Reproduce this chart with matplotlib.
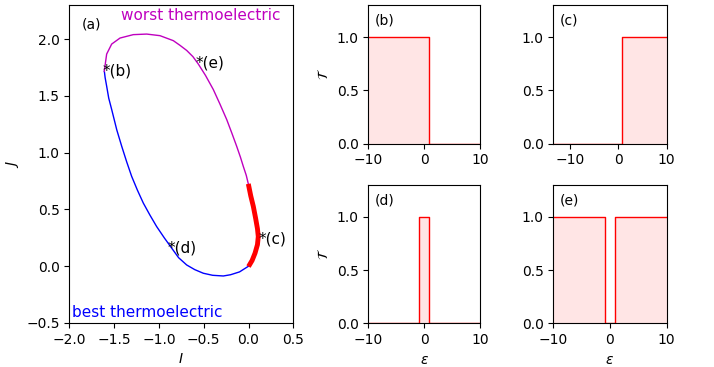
import matplotlib
matplotlib.use("Agg")
import matplotlib.pyplot as plt
import numpy as np

# ---- data for panel (a) ----
# blue branch (best thermoelectric): from (0,0) around the bottom to point (b)
I_blue = [0.0, -0.1, -0.2, -0.281, -0.4, -0.504, -0.6, -0.69, -0.78, -0.857, -0.94, -1.025,
          -1.1, -1.174, -1.24, -1.304, -1.36, -1.415, -1.47, -1.527, -1.56, -1.583, -1.6, -1.609]
J_blue = [0.0, -0.05, -0.075, -0.086, -0.08, -0.062, -0.03, 0.011, 0.075, 0.159, 0.25, 0.349,
          0.45, 0.556, 0.67, 0.791, 0.92, 1.056, 1.2, 1.38, 1.48, 1.585, 1.66, 1.717]
# magenta branch (worst thermoelectric): from point (b) over the top down to the red segment
I_mag = [-1.609, -1.595, -1.583, -1.527, -1.434, -1.286, -1.136, -0.988, -0.839, -0.765,
         -0.69, -0.62, -0.56, -0.48, -0.393, -0.32, -0.243, -0.185, -0.132, -0.09,
         -0.058, -0.025, -0.002]
J_mag = [1.717, 1.80, 1.868, 1.956, 2.009, 2.039, 2.044, 2.030, 1.986, 1.945,
         1.90, 1.845, 1.78, 1.68, 1.556, 1.43, 1.291, 1.17, 1.056, 0.96,
         0.879, 0.80, 0.725]
# red segment
I_red = [-0.002, 0.025, 0.054, 0.08, 0.1, 0.109, 0.1, 0.073, 0.04, 0.0]
J_red = [0.725, 0.62, 0.526, 0.42, 0.33, 0.261, 0.19, 0.115, 0.05, -0.003]

# labelled points
pt_labels = ["*(b)", "*(c)", "*(d)", "*(e)"]
pt_I = [-1.625, 0.11, -0.9, -0.59]
pt_J = [1.72, 0.24, 0.16, 1.79]

# ---- data for transmission panels ----
eps_b = [-10, 0.8, 0.8, 10]
T_b = [1, 1, 0, 0]
eps_c = [-13.5, 0.8, 0.8, 10]
T_c = [0, 0, 1, 1]
eps_d = [-10, -0.95, -0.95, 0.85, 0.85, 10]
T_d = [0, 0, 1, 1, 0, 0]
eps_e = [-10, -0.95, -0.95, 0.85, 0.85, 10]
T_e = [1, 1, 0, 0, 1, 1]

W, H = 714, 367
fig = plt.figure(figsize=(W / 100, H / 100), dpi=100)

def rect(x0, x1, ytop, ybot):
    return [x0 / W, 1 - ybot / H, (x1 - x0) / W, (ybot - ytop) / H]

ax = fig.add_axes(rect(69.3, 293.3, 5, 323))
ax.plot(I_blue, J_blue, color="blue", lw=1)
ax.plot(I_mag, J_mag, color="m", lw=1)
ax.plot(I_red, J_red, color="red", lw=3.5, solid_capstyle="butt")
for lab, x, y in zip(pt_labels, pt_I, pt_J):
    ax.text(x, y, lab, fontsize=11, ha="left", va="center")
ax.set_xlim(-2, 0.5)
ax.set_ylim(-0.5, 2.3)
ax.set_xticks([-2.0, -1.5, -1.0, -0.5, 0.0, 0.5])
ax.set_yticks([-0.5, 0.0, 0.5, 1.0, 1.5, 2.0])
ax.set_xlabel("$I$")
ax.set_ylabel("$J$")
ax.text(0.055, 0.96, "(a)", transform=ax.transAxes, fontsize=10, va="top")
ax.text(0.585, 0.99, "worst thermoelectric", transform=ax.transAxes, color="m",
        fontsize=11, ha="center", va="top")
ax.text(0.35, 0.01, "best thermoelectric", transform=ax.transAxes, color="blue",
        fontsize=11, ha="center", va="bottom")

panels = [
    ("(b)", eps_b, T_b, rect(368.3, 480.3, 5, 143.7), (-10, 10), True, False),
    ("(c)", eps_c, T_c, rect(553.3, 666.7, 5, 143.7), (-13.5, 10), False, False),
    ("(d)", eps_d, T_d, rect(368.3, 480.3, 185, 323.3), (-10, 10), True, True),
    ("(e)", eps_e, T_e, rect(553.3, 666.7, 185, 323.3), (-10, 10), False, True),
]
for lab, ex, ty, r, xl, ylab, xlab in panels:
    a = fig.add_axes(r)
    a.plot(ex, ty, color="red", lw=1)
    a.fill_between(ex, ty, 0, color="red", alpha=0.1, lw=0)
    a.set_xlim(*xl)
    a.set_ylim(0, 1.3)
    a.set_xticks([-10, 0, 10])
    a.set_yticks([0.0, 0.5, 1.0])
    a.text(0.06, 0.94, lab, transform=a.transAxes, fontsize=10, va="top")
    if ylab:
        a.set_ylabel(r"$\mathcal{T}$")
    if xlab:
        a.set_xlabel(r"$\varepsilon$")

fig.savefig("out.png", dpi=100)
